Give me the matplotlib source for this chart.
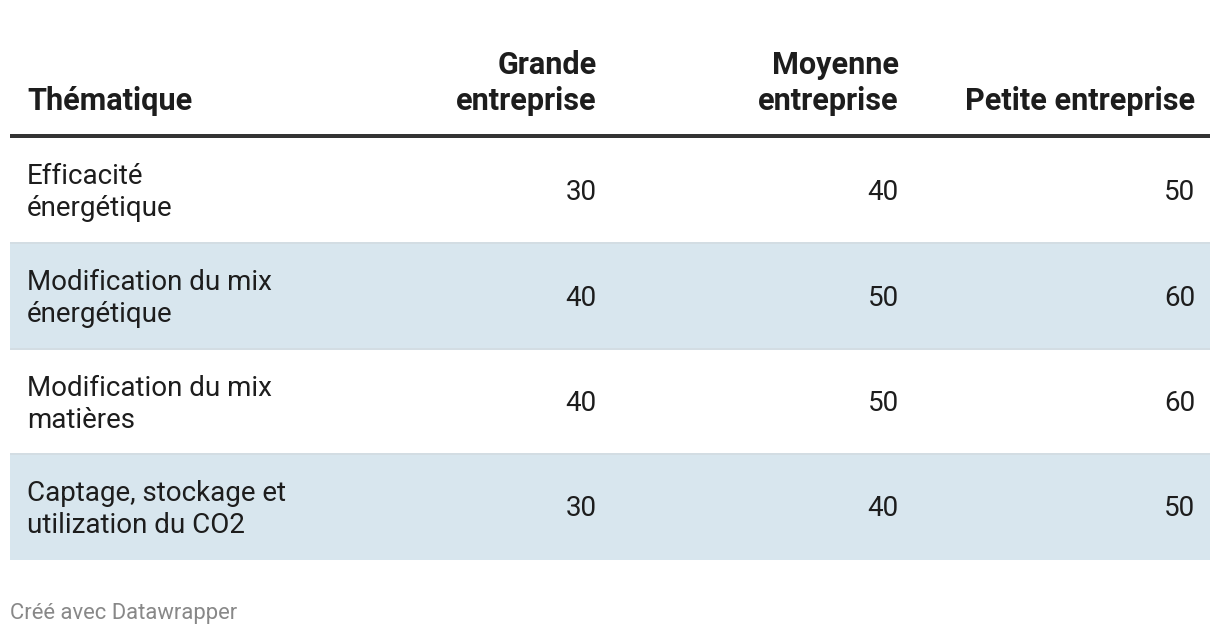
import matplotlib.pyplot as plt

# données du tableau
themes = ["Efficacité\nénergétique",
          "Modification du mix\nénergétique",
          "Modification du mix\nmatières",
          "Captage, stockage et\nutilization du CO2"]
columns = ["Grande\nentreprise", "Moyenne\nentreprise", "Petite entreprise"]
grande = [30, 40, 40, 30]
moyenne = [40, 50, 50, 40]
petite = [50, 60, 60, 50]
first_header = "Thématique"
footer = "Créé avec Datawrapper"

W, H = 1220, 636
PX = 0.72  # 1 px en points (dpi 100)

plt.rcParams['font.family'] = ['Roboto', 'DejaVu Sans']
fig = plt.figure(figsize=(W / 100, H / 100), dpi=100)
ax = fig.add_axes([0, 0, 1, 1])
ax.set_xlim(0, W)
ax.set_ylim(H, 0)
ax.axis('off')

left, right = 10, 1210
text_x = 27
col_right = [597, 899, 1195]
row_edges = [138, 243, 349, 454, 560]
shade = '#d8e6ee'
txt = '#1d1d1d'

# en-tête
head_size = 30.6 * PX
ax.text(text_x, 110, first_header, fontsize=head_size, fontweight='bold',
        color=txt, ha='left', va='baseline')
for x, col in zip(col_right, columns):
    lines = col.split('\n')
    base = 110 - 36 * (len(lines) - 1)
    for i, line in enumerate(lines):
        ax.text(x, base + 36 * i, line, fontsize=head_size, fontweight='bold',
                color=txt, ha='right', va='baseline')
ax.plot([left, right], [136, 136], color='#333333', lw=4 * PX,
        solid_capstyle='butt')

# lignes du tableau
body_size = 27.8 * PX
values = list(zip(grande, moyenne, petite))
for r, theme in enumerate(themes):
    top, bot = row_edges[r], row_edges[r + 1]
    mid = (top + bot) / 2
    if r % 2 == 1:
        ax.fill_between([left, right], top, bot, color=shade, lw=0)
    if r > 0:
        ax.plot([left, right], [top, top], color='#d3dde3', lw=2 * PX,
                solid_capstyle='butt')
    lines = theme.split('\n')
    for i, line in enumerate(lines):
        ax.text(text_x, mid - 6 + 32 * i, line, fontsize=body_size,
                color=txt, ha='left', va='baseline')
    for x, v in zip(col_right, values[r]):
        ax.text(x, mid + 9.5, str(v), fontsize=body_size, color=txt,
                ha='right', va='baseline')

ax.text(10, 619, footer, fontsize=22 * PX, color='#888888',
        ha='left', va='baseline')

fig.savefig('out.png', dpi=100, facecolor='white')
